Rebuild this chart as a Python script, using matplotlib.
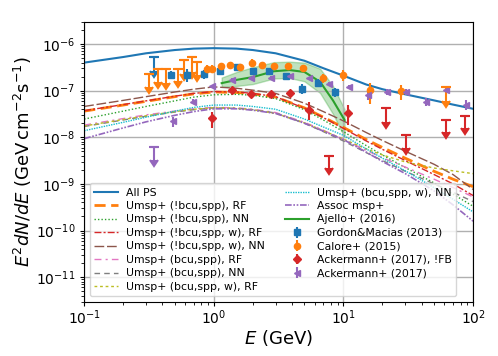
import matplotlib
matplotlib.use('Agg')
import matplotlib.pyplot as plt
import numpy as np

# model curves, log10(E^2 dN/dE) at these energies (GeV)
e_grid = [0.1, 0.2, 0.3, 0.5, 0.7, 1, 1.5, 2, 3, 5, 7, 10, 15, 20, 30, 50, 70, 100]
log_all_ps = [-6.40, -6.28, -6.20, -6.13, -6.10, -6.09, -6.10, -6.13, -6.20, -6.36, -6.52, -6.68, -6.87, -6.97, -7.08, -7.21, -7.30, -7.39]
log_nobcu_rf = [-7.44, -7.31, -7.23, -7.13, -7.07, -7.03, -7.04, -7.07, -7.14, -7.37, -7.57, -7.79, -8.05, -8.22, -8.45, -8.73, -8.90, -9.06]
log_nobcu_nn = [-7.61, -7.44, -7.34, -7.22, -7.14, -7.09, -7.08, -7.10, -7.17, -7.41, -7.63, -7.88, -8.18, -8.38, -8.65, -8.98, -9.22, -9.48]
log_nobcu_w_rf = [-7.43, -7.30, -7.22, -7.12, -7.06, -7.02, -7.03, -7.06, -7.13, -7.38, -7.58, -7.81, -8.08, -8.26, -8.50, -8.80, -9.00, -9.25]
log_nobcu_w_nn = [-7.34, -7.21, -7.13, -7.03, -6.97, -6.92, -6.95, -6.99, -7.06, -7.27, -7.45, -7.65, -7.90, -8.07, -8.30, -8.58, -8.80, -9.12]
log_bcu_rf = [-7.74, -7.60, -7.52, -7.44, -7.39, -7.36, -7.37, -7.40, -7.47, -7.68, -7.85, -8.05, -8.28, -8.44, -8.64, -8.90, -9.08, -9.28]
log_bcu_nn = [-7.77, -7.63, -7.55, -7.46, -7.41, -7.37, -7.38, -7.41, -7.48, -7.70, -7.88, -8.08, -8.33, -8.50, -8.73, -9.00, -9.18, -9.38]
log_bcu_w_rf = [-7.76, -7.62, -7.54, -7.45, -7.40, -7.37, -7.38, -7.41, -7.49, -7.69, -7.86, -8.04, -8.25, -8.38, -8.53, -8.66, -8.72, -8.78]
log_bcu_w_nn = [-7.86, -7.68, -7.57, -7.44, -7.36, -7.31, -7.31, -7.34, -7.40, -7.61, -7.78, -7.96, -8.25, -8.45, -8.72, -9.08, -9.33, -9.60]
log_assoc = [-8.03, -7.80, -7.67, -7.53, -7.45, -7.39, -7.39, -7.42, -7.49, -7.70, -7.87, -8.05, -8.32, -8.52, -8.78, -9.15, -9.45, -9.80]

# Ajello+ (2016) line and band
e_ajello = [1.15, 1.5, 2, 2.9, 3.85, 5.0, 6.6, 8.3, 10.2]
log_ajello = [-6.84, -6.77, -6.71, -6.585, -6.56, -6.60, -6.81, -7.21, -7.63]
log_ajello_hi = [-6.72, -6.60, -6.50, -6.39, -6.38, -6.40, -6.53, -6.90, -7.40]
log_ajello_lo = [-6.92, -6.90, -6.86, -6.74, -6.73, -6.80, -7.05, -7.50, -8.00]

# Gordon & Macias (2013): value, lower, upper (log10)
e_gm = [0.466, 0.62, 0.84, 1.12, 1.5, 2.0, 2.67, 3.6, 4.8, 6.4, 8.6]
log_gm = [-6.67, -6.67, -6.65, -6.585, -6.50, -6.585, -6.58, -6.68, -6.96, -6.83, -7.04]
log_gm_lo = [-6.76, -6.81, -6.75, -6.645, -6.55, -6.635, -6.63, -6.74, -7.07, -6.91, -7.13]
log_gm_hi = [-6.58, -6.53, -6.55, -6.525, -6.45, -6.535, -6.53, -6.62, -6.85, -6.75, -6.95]
e_gm_ul = [0.344]
log_gm_ul = [-6.28]
log_gm_ul_lo = [-6.58]

# Calore+ (2015)
e_cal = [0.88, 0.97, 1.13, 1.33, 1.58, 1.96, 2.34, 2.9, 3.75, 4.88, 6.9, 9.9, 15.9, 27.8]
log_cal = [-6.54, -6.53, -6.48, -6.46, -6.49, -6.40, -6.46, -6.47, -6.48, -6.52, -6.74, -6.67, -6.99, -7.005]
log_cal_lo = [-6.62, -6.61, -6.55, -6.53, -6.56, -6.47, -6.53, -6.54, -6.55, -6.59, -6.84, -6.80, -7.28, -7.21]
log_cal_hi = [-6.46, -6.45, -6.41, -6.39, -6.42, -6.33, -6.39, -6.40, -6.41, -6.45, -6.64, -6.55, -6.83, -6.885]
e_cal_ul = [0.317, 0.368, 0.427, 0.53, 0.587, 0.673, 0.748, 62.0]
log_cal_ul = [-6.65, -6.53, -6.53, -6.53, -6.35, -6.29, -6.385, -6.93]
log_cal_ul_lo = [-6.93, -6.82, -6.84, -6.80, -6.65, -6.61, -6.67, -7.23]

# Ackermann+ (2017), !FB
e_afb = [0.97, 1.37, 1.93, 2.74, 3.86, 5.45, 10.8]
log_afb = [-7.58, -6.98, -7.08, -7.08, -7.05, -7.42, -7.49]
log_afb_lo = [-7.81, -7.03, -7.13, -7.13, -7.10, -7.63, -7.74]
log_afb_hi = [-7.46, -6.93, -7.03, -7.03, -7.00, -7.24, -7.31]
e_afb_ul = [7.7, 21.3, 30.6, 61.5, 86.8]
log_afb_ul = [-8.40, -7.38, -7.955, -7.62, -7.55]
log_afb_ul_lo = [-8.66, -7.68, -8.23, -7.89, -7.80]

# Ackermann+ (2017)
e_ack = [0.485, 0.685, 0.97, 1.37, 1.93, 2.74, 3.86, 5.45, 7.7, 11.0, 15.5, 21.6, 30.6, 43.6, 62.0, 88.0]
log_ack = [-7.65, -7.24, -6.91, -6.78, -6.74, -6.73, -6.69, -6.74, -6.86, -6.92, -7.10, -7.03, -7.03, -7.24, -6.99, -7.31]
log_ack_lo = [-7.78, -7.29, -6.95, -6.82, -6.78, -6.77, -6.73, -6.78, -6.90, -6.97, -7.20, -7.09, -7.09, -7.33, -7.06, -7.41]
log_ack_hi = [-7.56, -7.19, -6.87, -6.74, -6.70, -6.69, -6.65, -6.70, -6.82, -6.87, -7.01, -6.97, -6.97, -7.15, -6.92, -7.21]
e_ack_ul = [0.344]
log_ack_ul = [-8.22]
log_ack_ul_lo = [-8.49]


def lin(a):
    return 10.0 ** np.array(a)


def yerr(val, lo, hi):
    v = lin(val)
    return [v - lin(lo), lin(hi) - v]


plt.rcParams['font.size'] = 10
fig = plt.figure(figsize=(4.98, 3.56), dpi=100)
ax = fig.add_axes([0.169, 0.153, 0.781, 0.786])

ax.plot(e_grid, lin(log_all_ps), color='C0', lw=1.5, label='All PS')
ax.plot(e_grid, lin(log_nobcu_rf), color='C1', lw=2, dashes=(4, 2), label='Umsp+ (!bcu,spp), RF')
ax.plot(e_grid, lin(log_nobcu_nn), color='C2', lw=1, ls=(0, (1, 1.5)), label='Umsp+ (!bcu,spp), NN')
ax.plot(e_grid, lin(log_nobcu_w_rf), color='C3', lw=1, ls=(0, (5, 1.5, 1.5, 1.5)), label='Umsp+ (!bcu,spp, w), RF')
ax.plot(e_grid, lin(log_nobcu_w_nn), color='C5', lw=1, ls=(0, (7, 2)), label='Umsp+ (!bcu,spp, w), NN')
ax.plot(e_grid, lin(log_bcu_rf), color='C6', lw=1, ls=(0, (5, 3, 1.5, 3)), label='Umsp+ (bcu,spp), RF')
ax.plot(e_grid, lin(log_bcu_nn), color='C7', lw=1, ls=(0, (4, 3)), label='Umsp+ (bcu,spp), NN')
ax.plot(e_grid, lin(log_bcu_w_rf), color='C8', lw=1, ls=(0, (2, 2)), label='Umsp+ (bcu,spp, w), RF')
ax.plot(e_grid, lin(log_bcu_w_nn), color='C9', lw=1, ls=(0, (1, 0.8)), label='Umsp+ (bcu,spp, w), NN')
ax.plot(e_grid, lin(log_assoc), color='C4', lw=1.2, ls=(0, (4, 1, 1, 1, 1, 1)), label='Assoc msp+')

ax.fill_between(e_ajello, lin(log_ajello_lo), lin(log_ajello_hi), color='C2', alpha=0.3, lw=1)
ax.plot(e_ajello, lin(log_ajello), color='C2', lw=1.5, label='Ajello+ (2016)')

eb = dict(elinewidth=1.5, capsize=0)
ax.errorbar(e_gm, lin(log_gm), yerr=yerr(log_gm, log_gm_lo, log_gm_hi), fmt='s', color='C0', ms=4.5, label='Gordon&Macias (2013)', **eb)
ax.errorbar(e_cal, lin(log_cal), yerr=yerr(log_cal, log_cal_lo, log_cal_hi), fmt='o', color='C1', ms=4.5, label='Calore+ (2015)', **eb)
ax.errorbar(e_afb, lin(log_afb), yerr=yerr(log_afb, log_afb_lo, log_afb_hi), fmt='D', color='C3', ms=4, label='Ackermann+ (2017), !FB', **eb)
ax.errorbar(e_ack, lin(log_ack), yerr=yerr(log_ack, log_ack_lo, log_ack_hi), fmt='<', color='C4', ms=4.5, label='Ackermann+ (2017)', **eb)

# upper limits
for e, v, lo, c in [(e_gm_ul, log_gm_ul, log_gm_ul_lo, 'C0'),
                    (e_cal_ul, log_cal_ul, log_cal_ul_lo, 'C1'),
                    (e_afb_ul, log_afb_ul, log_afb_ul_lo, 'C3'),
                    (e_ack_ul, log_ack_ul, log_ack_ul_lo, 'C4')]:
    vv = lin(v)
    ax.errorbar(e, vv, yerr=[vv - lin(lo), np.zeros(len(vv))], uplims=True, fmt='_', ms=7, mew=1.5,
                color=c, elinewidth=1.5, capsize=3)

ax.set_xscale('log')
ax.set_yscale('log')
ax.set_xlim(0.1, 100)
ax.set_ylim(3e-12, 3e-6)
ax.grid(True, which='major', color='#b0b0b0', lw=1)
ax.tick_params(which='major', length=3)
ax.tick_params(which='minor', length=2)
ax.tick_params(axis='x', pad=2)
ax.set_xlabel('$E$ (GeV)', fontsize=13, labelpad=1)
ax.set_ylabel('$E^2dN/dE$ (GeV$\\,$cm$^{-2}$s$^{-1}$)', fontsize=13, labelpad=1)
ax.legend(loc='lower left', ncol=2, fontsize=7.8, labelspacing=0.32, handlelength=2.2,
          handletextpad=0.75, columnspacing=1.9)

fig.savefig('out.png', dpi=100)
